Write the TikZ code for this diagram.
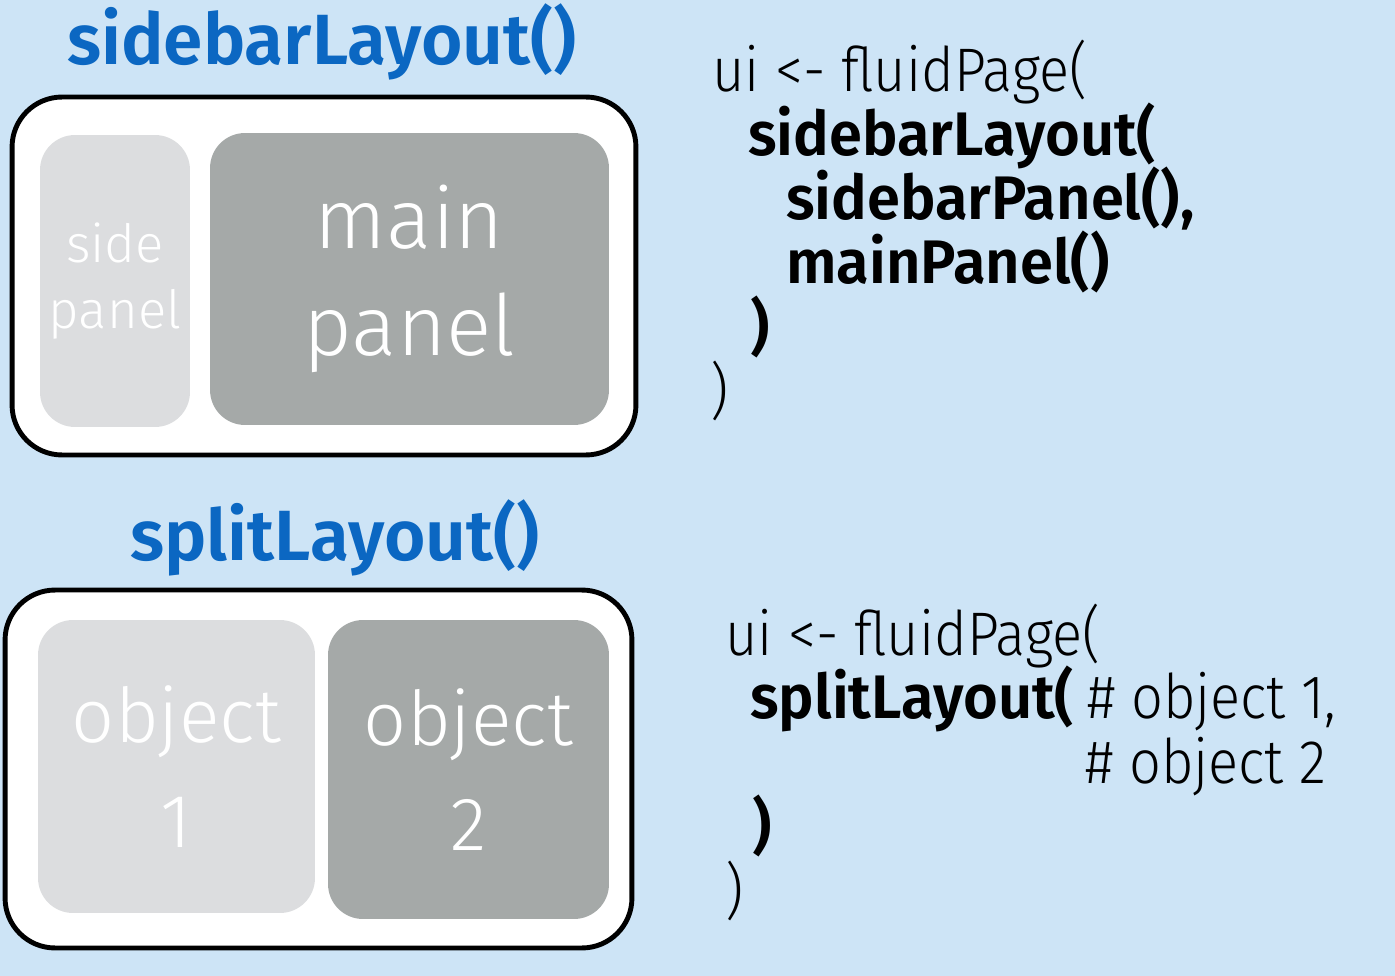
\documentclass[tikz,border=0pt]{standalone}
\usepackage{fontspec}
\setmainfont{Fira Sans}
\newfontfamily\lightfont{Fira Sans Light}
\newfontfamily\codefont{Fira Sans Light}[FakeStretch=0.91]
\newfontfamily\heavyfont{Fira Sans SemiBold}
\newfontfamily\codeheavy{Fira Sans SemiBold}[FakeStretch=0.97]
\usepackage{tikz}
\usetikzlibrary{positioning}

\definecolor{bgblue}{HTML}{CDE4F6}
\definecolor{titleblue}{HTML}{0B67C2}
\definecolor{lightpanel}{HTML}{DCDDDF}
\definecolor{darkpanel}{HTML}{A5A9A8}

\begin{document}
\begin{tikzpicture}[
    x=0.02cm, y=-0.02cm,
    frame/.style={draw=black, line width=2.8pt, fill=white, rounded corners=1cm, inner sep=0pt},
    panel/.style={rounded corners=0.7cm, inner sep=0pt, align=center, text=white},
    lightbox/.style={panel, fill=lightpanel},
    darkbox/.style={panel, fill=darkpanel},
    title/.style={anchor=base, text=titleblue, font=\heavyfont\fontsize{40.5}{40.5}\selectfont, inner sep=0pt},
    codeline/.style={anchor=base west, inner sep=0pt, font=\codefont\fontsize{35}{35}\selectfont},
    codebold/.style={codeline, font=\codeheavy\fontsize{35}{35}\selectfont}
]
% background and page size
\fill[bgblue] (0,0) rectangle (1395,976);
\useasboundingbox (0,0) rectangle (1395,976);

% sidebar layout
\node[title] (sbtitle) at (322,65) {sidebarLayout()};
\node[frame, minimum width=12.48cm, minimum height=7.16cm] (sbframe) at (324,276) {};
\node[lightbox, minimum width=3cm, minimum height=5.84cm,
      font=\lightfont\fontsize{30}{38}\selectfont] (side) at (115,281) {side\\panel};
\node[darkbox, minimum width=7.98cm, minimum height=5.84cm,
      font=\lightfont\fontsize{48}{61}\selectfont] (main) at (409.5,279) {main\\panel};

% split layout
\node[title] (sptitle) at (335,560) {splitLayout()};
\node[frame, minimum width=12.54cm, minimum height=7.16cm] (spframe) at (318.5,769) {};
\node[lightbox, minimum width=5.54cm, minimum height=5.86cm,
      font=\lightfont\fontsize{43}{60}\selectfont] (obj1) at (176.5,766.5) {object\\1};
\node[darkbox, minimum width=5.62cm, minimum height=5.98cm,
      font=\lightfont\fontsize{43}{60}\selectfont] (obj2) at (468.5,769.5) {object\\2};

% code for sidebar layout
\node[codeline] (sbui) at (712,92) {ui <- fluidPage(};
\node[codebold] (sbcall) at (748,156) {sidebarLayout(};
\node[codebold] (sbside) at (786,220) {sidebarPanel(),};
\node[codebold] (sbmain) at (786,284) {mainPanel()};
\node[codebold] (sbclose) at (750,348) {)};
\node[codeline] (sbend) at (710,412) {)};

% code for split layout
\node[codeline] (spui) at (725,655) {ui <- fluidPage(};
\node[codebold] (spcall) at (750,718) {splitLayout(};
\node[codeline] (spone) at (1087,718) {\# object 1,};
\node[codeline] (sptwo) at (1085,783) {\# object 2};
\node[codebold] (spclose) at (752,847) {)};
\node[codeline] (spend) at (725,912) {)};
\end{tikzpicture}
\end{document}
